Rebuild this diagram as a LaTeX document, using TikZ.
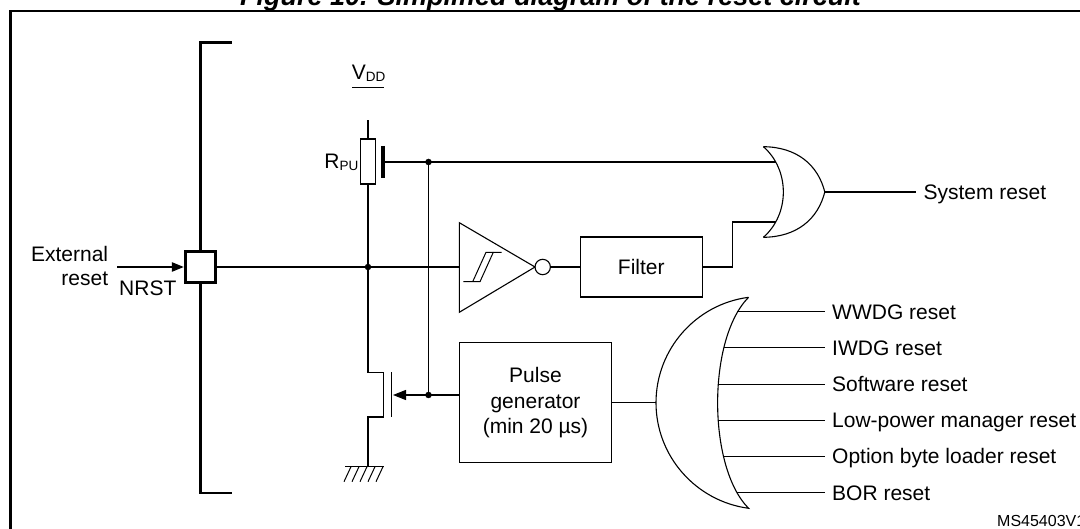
\documentclass[tikz,border=0pt]{standalone}
\usepackage{fontspec}
\setmainfont{Liberation Sans}
\usetikzlibrary{arrows.meta}
\newcommand\mysubfont{\fontsize{13.5}{13.5}\selectfont}
\begin{document}
\begin{tikzpicture}[x=1pt,y=-1pt,
  wire/.style={line width=1.1pt},
  txt/.style={font=\fontsize{21}{25.7}\selectfont, inner sep=0pt},
  blk/.style={draw, line width=1.1pt, inner sep=0pt, align=center, font=\fontsize{21}{25.7}\selectfont},
  jdot/.style={circle, fill, inner sep=0pt, minimum size=6.5pt},
  heavy/.style={line width=2.8pt},
  lbl/.style={txt, anchor=base west, inner xsep=7.5pt, inner ysep=0pt},
]
\useasboundingbox (0,0) rectangle (1080,529);

% title and frame
\node[font=\fontsize{27}{30}\selectfont\bfseries\itshape, anchor=base, inner sep=0pt] (title) at (550.5,6) {Figure 10. Simplified diagram of the reset circuit};
\draw[line width=2.2pt] (10.5,11) rectangle (1095,545);

% pad and chip boundary
\node[draw, line width=3pt, minimum size=30.5pt, inner sep=0pt] (nrst) at (200.5,267) {};
\coordinate (brTopEnd) at (231.5,42.5);
\coordinate (brTop) at (200.5,42.5);
\coordinate (brBot) at (200.5,493);
\coordinate (brBotEnd) at (231.5,493);
\draw[heavy] (brTopEnd) -- (brTop) -- (nrst.north);
\draw[heavy] (nrst.south) -- (brBot) -- (brBotEnd);

% external reset
\coordinate (extin) at (117,267);
\draw[wire, -{Triangle[length=12pt,width=9.5pt]}] (extin) -- (nrst.west);
\node[txt, anchor=base east] (ext1) at (108.3,262) {External};
\node[txt, anchor=base east] (ext2) at (108.3,285.7) {reset};
\node[txt, anchor=base west] (nrstlbl) at (119,295.7) {NRST};

% pull-up
\node[jdot] (j1) at (368,267) {};
\node[draw, line width=1.1pt, minimum width=14.3pt, minimum height=45pt, inner sep=0pt] (rpu) at (368,161.5) {};
\coordinate (vddw) at (368,120.5);
\draw[wire] (vddw) -- (rpu.north);
\draw[wire] (rpu.south) -- (j1.center);
\node[txt, anchor=base west] (vdd) at (351.7,80) {V\lower1.5pt\hbox{\mysubfont DD}};
\coordinate (vbarL) at (352.4,87.3);
\coordinate (vbarR) at (383.8,87.3);
\draw[line width=1.4pt] (vbarL) -- (vbarR);
\node[txt, anchor=base east] (rlbl) at (358.6,169) {R\lower2pt\hbox{\mysubfont PU}};

% tap
\coordinate (tapT) at (382.7,146);
\coordinate (tapB) at (382.7,178);
\coordinate (tap) at (382.7,162);
\draw[line width=4pt] (tapT) -- (tapB);
\node[jdot] (j2) at (428.5,162) {};
\coordinate (or1in) at (775.7,162);
\draw[wire] (tap) -- (j2.center) -- (or1in);
\node[jdot] (j3) at (428.5,395) {};
\draw[wire] (j2.center) -- (j3.center);

% pulse generator
\node[blk, minimum width=151.7pt, minimum height=120pt] (pulse) at (535.5,402.7) {Pulse\\generator\\(min 20 µs)};
\coordinate (gatetip) at (393,395);
\draw[wire] (pulse.west |- j3) -- (j3.center);
\draw[wire, -{Triangle[length=13pt,width=10pt]}] (j3.center) -- (gatetip);

% MOSFET
\coordinate (m1) at (368,372.5);
\coordinate (m2) at (383.3,372.5);
\coordinate (m3) at (383.3,417);
\coordinate (m4) at (368,417);
\coordinate (gnd) at (368,466.7);
\draw[wire] (j1.center) -- (m1) -- (m2) -- (m3) -- (m4) -- (gnd);
\coordinate (gp1) at (391.4,372.5);
\coordinate (gp2) at (391.4,417);
\draw[wire] (gp1) -- (gp2);
% ground
\coordinate (gndL) at (345,466.7);
\coordinate (gndR) at (384,466.7);
\draw[wire] (gndL) -- (gndR);
\foreach \x in {351,359,367,375,383} \draw[line width=1pt] (\x,466.7) -- (\x-7,481.7);

% Schmitt trigger
\coordinate (stA) at (459.3,222.7);
\coordinate (stB) at (459.3,312.3);
\coordinate (stC) at (535,267);
\coordinate (stL) at (459.3,267);
\draw[wire] (nrst.east) -- (j1.center) -- (stL);
\draw[wire, line join=miter] (stA) -- (stB) -- (stC) -- cycle;
\draw[line width=1pt] (463.3,281.7) -- (480,281.7) -- (493.3,252.3) -- (501.7,252.3);
\draw[line width=1pt] (472.7,281.7) -- (486,252.3) -- (493.3,252.3);
\node[draw, circle, line width=1.1pt, minimum size=15.4pt, inner sep=0pt] (bub) at (542.7,267) {};

% filter
\node[blk, minimum width=122pt, minimum height=60pt] (filter) at (641.3,267) {Filter};
\draw[wire] (bub.east) -- (filter.west);
\coordinate (f1) at (732.7,267);
\coordinate (f2) at (732.7,222);
\coordinate (or2in) at (775.7,222);
\draw[wire] (filter.east) -- (f1) -- (f2) -- (or2in);

% OR gate (system reset)
\coordinate (orT) at (763.4,146.7);
\coordinate (orB) at (763.4,237.3);
\coordinate (orTip) at (824.8,192);
\draw[wire] (orT) .. controls (790,170) and (790,214) .. (orB);
\draw[wire] (orB) .. controls (797,237) and (818,219) .. (orTip);
\draw[wire] (orTip) .. controls (818,165) and (797,147) .. (orT);
\node[lbl] (sys) at (915.9,199.5) {System reset};
\draw[wire] (orTip) -- (orTip -| sys.west);

% big OR gate
\coordinate (bT) at (748.6,297.3);
\coordinate (bL) at (656,402.7);
\coordinate (bB) at (748.6,508.3);
\draw[wire] (bT) .. controls (695.7,304.2) and (656,349.4) .. (bL)
  .. controls (656,456) and (695.7,501.2) .. (bB)
  .. controls (707.3,467) and (707.3,338.6) .. (bT);
\draw[wire] (pulse.east) -- (bL);
\foreach \y/\x/\t [count=\i] in {311.7/737.4/WWDG reset, 347.9/723.6/IWDG reset, 384.1/718.2/Software reset, 420.3/718.1/Low-power manager reset, 456.5/723.9/Option byte loader reset, 492.7/737/BOR reset}{
  \coordinate (in\i) at (\x,\y);
  \node[lbl] (src\i) at (824.5,\y+7.5) {\t};
  \draw[wire] (in\i) -- (in\i -| src\i.west);
}

\node[font=\fontsize{16}{16}\selectfont, anchor=base west, inner sep=0pt] (ms) at (997,526.5) {MS45403V1};
\end{tikzpicture}
\end{document}
